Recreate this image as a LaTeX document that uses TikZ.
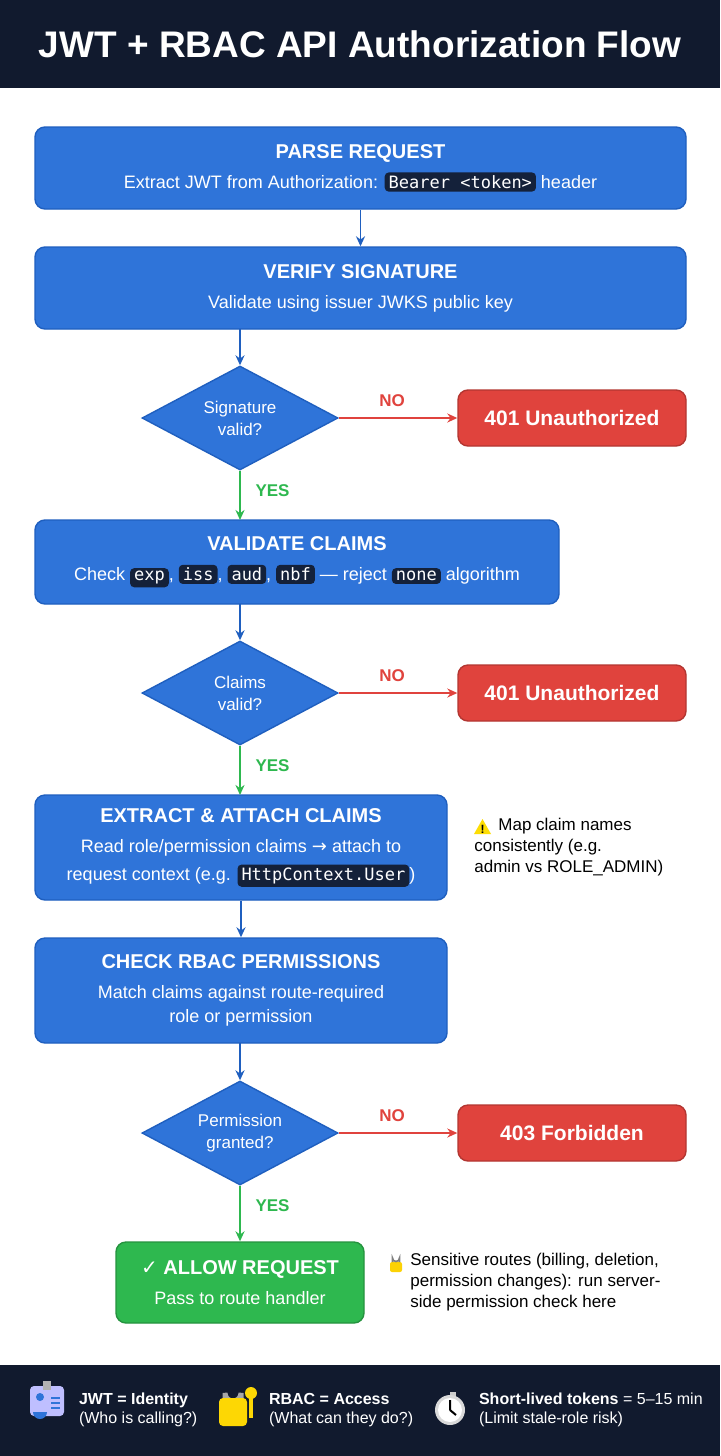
\documentclass[tikz,border=0pt]{standalone}
\usepackage{fontspec}
\setmainfont{Liberation Sans}
\setmonofont{DejaVu Sans Mono}
\newfontfamily\djv{DejaVu Sans}
\usetikzlibrary{shapes.geometric,arrows.meta}
\definecolor{navy}{HTML}{111A2E}
\definecolor{bblue}{HTML}{2F74D9}
\definecolor{bedge}{HTML}{1F5FBF}
\definecolor{rred}{HTML}{E0433D}
\definecolor{ggreen}{HTML}{2EB84F}
\definecolor{codebg}{HTML}{14213A}
\newcommand\cd[1]{\tikz[baseline=(c.base),x=1pt,y=1pt]\node[shape=rectangle,draw=none,minimum width=0pt,minimum height=0pt,fill=codebg,text=white,rounded corners=2pt,inner xsep=2pt,inner ysep=1.5pt,font=\fontsize{8.5}{10}\ttfamily](c){#1};}
\begin{document}
\begin{tikzpicture}[x=0.5pt,y=-0.5pt,
 box/.style={draw=bedge,line width=0.7pt,fill=bblue,rounded corners=5pt,text=white,align=center,font=\fontsize{9}{12}\selectfont,inner sep=0pt},
 dia/.style={diamond,draw=bedge,line width=0.7pt,fill=bblue,text=white,align=center,font=\fontsize{8.5}{11}\selectfont,minimum width=98pt,minimum height=52pt,inner sep=0pt,aspect=1.9},
 err/.style={draw=rred!80!black,line width=0.7pt,fill=rred,rounded corners=5pt,text=white,font=\fontsize{10.5}{12}\bfseries,minimum width=114pt,minimum height=28pt},
 ar/.style={-{Stealth[length=5pt,width=4.5pt]},line width=0.9pt,draw=bedge},
 yes/.style={ar,draw=ggreen},
 no/.style={ar,draw=rred},
 lbl/.style={font=\fontsize{8.5}{10}\bfseries},
 note/.style={align=left,anchor=north west,font=\fontsize{8.5}{10.5}\selectfont,inner sep=0pt}]
\useasboundingbox (0,0) rectangle (720,1456);
\fill[white] (0,0) rectangle (720,1456);
\fill[navy] (0,0) rectangle (720,88);
\node[text=white,font=\fontsize{18.5}{22}\bfseries] (title) at (360,44) {JWT + RBAC API Authorization Flow};
\fill[navy] (0,1365) rectangle (720,1456);

\node[box,minimum width=325.5pt,minimum height=41pt] (b1) at (360.5,168) {\textbf{\fontsize{10}{12}\selectfont PARSE REQUEST}\\[3pt] Extract JWT from Authorization: \cd{Bearer <token>} header};
\node[box,minimum width=325.5pt,minimum height=41pt] (b2) at (360.5,288) {\textbf{\fontsize{10}{12}\selectfont VERIFY SIGNATURE}\\[3pt] Validate using issuer JWKS public key};
\node[dia] (d1) at (240,418) {Signature\\valid?};
\node[err] (e1) at (572,418) {401 Unauthorized};
\node[box,minimum width=262pt,minimum height=42pt] (b3) at (297,562) {\textbf{\fontsize{10}{12}\selectfont VALIDATE CLAIMS}\\[3pt] Check \cd{exp}, \cd{iss}, \cd{aud}, \cd{nbf} — reject \cd{none} algorithm};
\node[dia] (d2) at (240,693) {Claims\\valid?};
\node[err] (e2) at (572,693) {401 Unauthorized};
\node[box,minimum width=206pt,minimum height=52.5pt] (b4) at (241,847.5) {\textbf{\fontsize{10}{12}\selectfont EXTRACT \& ATTACH CLAIMS}\\[3pt] Read role/permission claims {\djv →} attach to\\[2pt] request context (e.g. \cd{HttpContext.User})};
\node[box,minimum width=206pt,minimum height=52.5pt] (b5) at (241,990.5) {\textbf{\fontsize{10}{12}\selectfont CHECK RBAC PERMISSIONS}\\[3pt] Match claims against route-required\\ role or permission};
\node[dia] (d3) at (240,1133) {Permission\\granted?};
\node[err] (e3) at (572,1133) {403 Forbidden};
\node[box,draw=ggreen!80!black,fill=ggreen,minimum width=124pt,minimum height=40.5pt] (ok) at (240,1282.5) {\textbf{\fontsize{10}{12}\selectfont {\djv ✓} ALLOW REQUEST}\\[3pt] Pass to route handler};

\draw[ar] (b1.south) -- (b2.north);
\draw[ar] (240,329) -- (d1.north);
\draw[no] (d1.east) -- node[lbl,text=rred,above=2pt,pos=0.45]{NO} (e1.west);
\draw[yes] (d1.south) -- node[lbl,text=ggreen,right=4pt,pos=0.4]{YES} (240,520);
\draw[ar] (240,604) -- (d2.north);
\draw[no] (d2.east) -- node[lbl,text=rred,above=2pt,pos=0.45]{NO} (e2.west);
\draw[yes] (d2.south) -- node[lbl,text=ggreen,right=4pt,pos=0.4]{YES} (240,795);
\draw[ar] (b4.south) -- (b5.north);
\draw[ar] (240,1043) -- (d3.north);
\draw[no] (d3.east) -- node[lbl,text=rred,above=2pt,pos=0.45]{NO} (e3.west);
\draw[yes] (d3.south) -- node[lbl,text=ggreen,right=4pt,pos=0.35]{YES} (ok.north);

% notes
\fill[yellow!80!orange] (474,834) -- (491,834) -- (482.5,819) -- cycle;
\node[font=\fontsize{6}{6}\bfseries,inner sep=0] at (482.5,829) {!};
\node[note] (n1) at (474,818) {\hspace{12pt}Map claim names\\consistently (e.g.\\admin vs ROLE\_ADMIN)};
\fill[yellow!70!orange,rounded corners=1pt] (390,1262) rectangle (402,1272);
\draw[gray,line width=0.8pt] (392.5,1262) -- (392.5,1258) arc(180:0:3.5) -- (399.5,1262);
\node[note] (n2) at (410,1253) {Sensitive routes (billing, deletion,\\permission changes): run server-\\side permission check here};

% footer icons
\fill[blue!25!white,rounded corners=2pt] (30,1386) rectangle (64,1416);
\fill[gray!60] (43,1381) rectangle (51,1390);
\fill[bblue] (40,1397) circle (4);
\fill[bblue] (33,1412) arc(180:0:7) -- cycle;
\foreach \yy in {1398,1403,1408} \draw[bblue,line width=1pt] (51,\yy) -- (60,\yy);
\node[anchor=west,align=left,text=white,font=\fontsize{8}{9.5}\selectfont] (f1) at (72,1410) {\textbf{JWT = Identity}\\(Who is calling?)};
\draw[gray!70,line width=2.5pt] (225,1400) -- (225,1393) arc(180:0:8) -- (241,1400);
\fill[yellow!75!orange,rounded corners=2pt] (219,1398) rectangle (247,1426);
\fill[yellow!75!orange] (251,1393) circle (6);
\fill[yellow!75!orange] (249,1395) rectangle (253,1418);
\node[anchor=west,align=left,text=white,font=\fontsize{8}{9.5}\selectfont] (f2) at (262,1410) {\textbf{RBAC = Access}\\(What can they do?)};
\fill[gray!40] (450,1392) rectangle (456,1397);
\fill[gray!30] (450,1410) circle (15);
\fill[white] (450,1410) circle (12);
\draw[black,line width=1pt] (450,1410) -- (450,1400) (450,1410) -- (456,1415);
\node[anchor=west,align=left,text=white,font=\fontsize{8}{9.5}\selectfont] (f3) at (472,1410) {\textbf{Short-lived tokens} = 5–15 min\\(Limit stale-role risk)};
\end{tikzpicture}
\end{document}
